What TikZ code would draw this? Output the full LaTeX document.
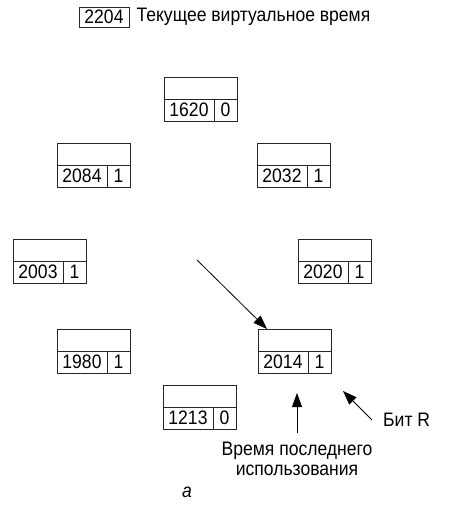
\documentclass[tikz,border=0pt]{standalone}
\usepackage{fontspec}
\setmainfont[FakeStretch=0.9]{Liberation Sans}
\usetikzlibrary{arrows.meta}
\newcommand\bigtxt{\fontsize{19.5}{21}\selectfont}
\tikzset{
  cell/.style={draw=black!85, line width=0.8pt, inner sep=0pt, outer sep=0pt, minimum height=22pt, anchor=north west, font=\bigtxt},
  arr/.style={line width=0.8pt, -{Triangle[length=14pt,width=10pt]}},
  lbl/.style={inner sep=0pt, font=\bigtxt}
}
\newcommand\pagebox[5]{%
  \node[cell, minimum width=73pt] (#1) at (#2,#3) {};
  \node[cell, minimum width=50pt] (#1n) at (#1.south west) {#4};
  \node[cell, minimum width=23pt] (#1b) at (#1n.north east) {#5};
}
\begin{document}
\begin{tikzpicture}[x=1pt,y=-1pt]
\useasboundingbox (0,0) rectangle (457,507);
% header
\node[draw=black!85, line width=0.8pt, inner sep=0pt, minimum width=50pt, minimum height=20pt, font=\bigtxt] (cur) at (104,17) {2204};
\node[lbl, anchor=west] (curtext) at ([xshift=7pt]cur.east) {Текущее виртуальное время};
% boxes
\pagebox{p1620}{164}{77}{1620}{0}
\pagebox{p2084}{57}{143}{2084}{1}
\pagebox{p2032}{257}{143}{2032}{1}
\pagebox{p2003}{13}{239}{2003}{1}
\pagebox{p2020}{298}{239}{2020}{1}
\pagebox{p1980}{57}{329}{1980}{1}
\pagebox{p2014}{258}{329}{2014}{1}
\pagebox{p1213}{163}{385}{1213}{0}
% hand
\coordinate (hs) at (197,260);
\draw[arr] (hs) -- ([xshift=9pt]p2014.north west);
% labels
\node[lbl, anchor=west] (bitR) at (383,420) {Бит R};
\coordinate (rs) at (372,420);
\coordinate (re) at (343,391);
\draw[arr] (rs) -- (re);
\node[lbl, align=center, anchor=north, font=\fontsize{19.5}{20}\selectfont] (lastuse) at (297,442) {Время последнего\\использования};
\coordinate (us) at (297,433);
\coordinate (ue) at (297,393);
\draw[arr] (us) -- (ue);
\node[lbl, font=\bigtxt\itshape] (sub) at (187,492) {а};
\end{tikzpicture}
\end{document}
